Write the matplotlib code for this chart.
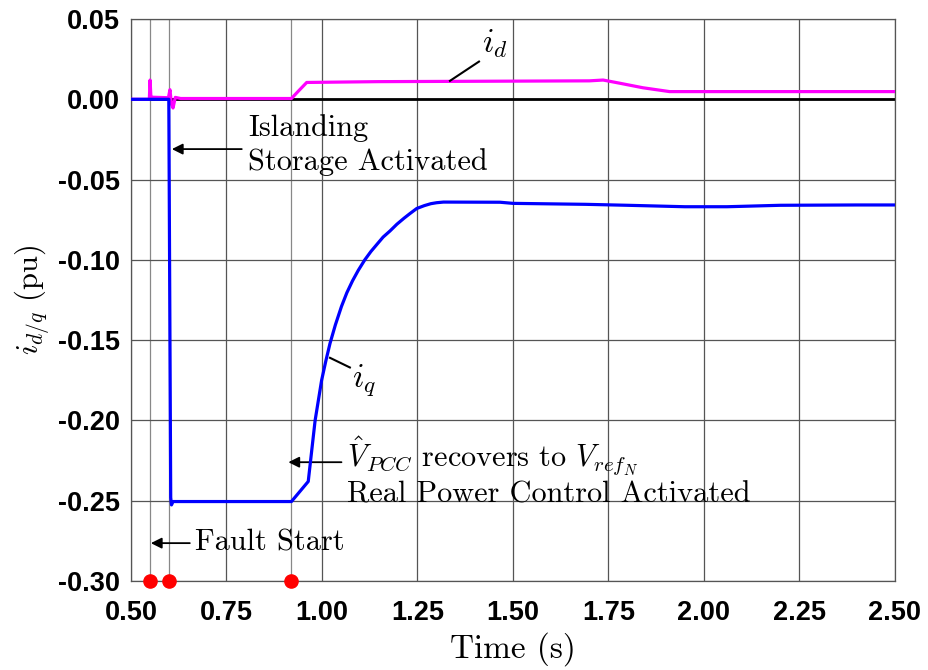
import numpy as np
import matplotlib
matplotlib.use('Agg')
import matplotlib.pyplot as plt

plt.rcParams['mathtext.fontset'] = 'cm'
plt.rcParams['axes.unicode_minus'] = False

# i_q (blue)
t_q = [0.50, 0.599, 0.600, 0.604, 0.606, 0.610, 0.628, 0.92, 0.964, 0.982, 0.999, 1.010, 1.021,
       1.035, 1.051, 1.065, 1.080, 1.095, 1.112, 1.128, 1.145, 1.160, 1.178, 1.196, 1.215,
       1.230, 1.248, 1.268, 1.285, 1.300, 1.318, 1.466, 1.50, 1.69,
       1.80, 1.95, 2.06, 2.20, 2.40, 2.50]
i_q = [0.0, 0.0, -0.05, -0.248, -0.2526, -0.2505, -0.2505, -0.2505, -0.238, -0.200, -0.175, -0.163, -0.152,
       -0.1405, -0.129, -0.1205, -0.113, -0.1065, -0.100, -0.0948, -0.090, -0.0858, -0.082, -0.0778, -0.074,
       -0.0712, -0.068, -0.0662, -0.065, -0.0644, -0.064, -0.0641, -0.0648, -0.0654,
       -0.066, -0.0669, -0.0669, -0.066, -0.0658, -0.0658]

# i_d (magenta)
t_d = [0.50, 0.548, 0.550, 0.552, 0.556, 0.598, 0.602, 0.606, 0.610, 0.616, 0.630, 0.92,
       0.937, 0.96, 1.146, 1.70, 1.736, 1.78, 1.84, 1.91, 2.50]
i_d = [0.0, 0.0, 0.012, 0.002, 0.0013, 0.0010, 0.006, -0.003, -0.0054, 0.0012, 0.0005, 0.0005,
       0.0048, 0.0105, 0.011, 0.0115, 0.012, 0.010, 0.0072, 0.0048, 0.0048]

t_zero = [0.50, 2.50]
zero = [0.0, 0.0]

events = [0.55, 0.60, 0.92]  # fault start, islanding, recovery

xticks = [0.50, 0.75, 1.00, 1.25, 1.50, 1.75, 2.00, 2.25, 2.50]
yticks = [0.05, 0.00, -0.05, -0.10, -0.15, -0.20, -0.25, -0.30]

fig = plt.figure(figsize=(9.29, 6.70), dpi=100)
ax = fig.add_axes([0.141, 0.1328, 0.8224, 0.8388])

ax.set_xlim(0.5, 2.5)
ax.set_ylim(-0.30, 0.05)
ax.set_xticks(xticks)
ax.set_yticks(yticks)
ax.set_xticklabels(['%.2f' % v for v in xticks])
ax.set_yticklabels(['%.2f' % v for v in yticks])
for lab in ax.get_xticklabels() + ax.get_yticklabels():
    lab.set_fontfamily('Liberation Sans')
    lab.set_fontweight('bold')
    lab.set_fontsize(19.5)
ax.tick_params(length=0)
ax.tick_params(axis='y', pad=8)
ax.tick_params(axis='x', pad=14)

ax.grid(True, color='#555555', linewidth=0.9, zorder=0)
for ev in events:
    ax.axvline(ev, color='#888888', linewidth=0.9, zorder=0)
for sp in ax.spines.values():
    sp.set_color('#555555')
    sp.set_linewidth(0.9)

ax.plot(t_zero, zero, color='black', linewidth=2.0, zorder=2)
ax.plot(t_d, i_d, color='#ff00ff', linewidth=2.3, zorder=3)
ax.plot(t_q, i_q, color='#0000ff', linewidth=2.3, zorder=4)
ax.scatter(events, [-0.30] * len(events), s=90, color='#ff0000', zorder=6, clip_on=False)

ax.set_xlabel('Time (s)', fontfamily='cmr10', fontsize=24, labelpad=4)
ax.set_ylabel('$i_{d/q}$ (pu)', fontfamily='cmr10', fontsize=22, labelpad=4)

fs = 21.8
arrow = dict(arrowstyle='-|>', color='black', lw=1.3, mutation_scale=16, shrinkA=0, shrinkB=0)
ax.annotate('', xy=(0.607, -0.031), xytext=(0.79, -0.031), arrowprops=arrow)
ax.text(0.806, -0.0285, 'Islanding\nStorage Activated', fontfamily='cmr10', fontsize=fs,
        va='center', ha='left', linespacing=1.25)
ax.annotate('', xy=(0.552, -0.2764), xytext=(0.654, -0.2764), arrowprops=arrow)
ax.text(0.668, -0.2764, 'Fault Start', fontfamily='cmr10', fontsize=fs, va='center', ha='left')
ax.annotate('', xy=(0.912, -0.226), xytext=(1.051, -0.226), arrowprops=arrow)
ax.text(1.065, -0.2315, '$\\hat{V}_{PCC}$ recovers to $V_{ref_N}$\nReal Power Control Activated',
        fontfamily='cmr10', fontsize=fs, va='center', ha='left', linespacing=1.15)

ax.plot([1.335, 1.411], [0.0115, 0.0235], color='black', linewidth=1.5, zorder=5)
ax.text(1.42, 0.0345, '$i_d$', fontsize=24, va='center', ha='left')
ax.plot([1.021, 1.073], [-0.161, -0.167], color='black', linewidth=1.5, zorder=5)
ax.text(1.078, -0.175, '$i_q$', fontsize=24, va='center', ha='left')

fig.savefig('out.png', dpi=100)
